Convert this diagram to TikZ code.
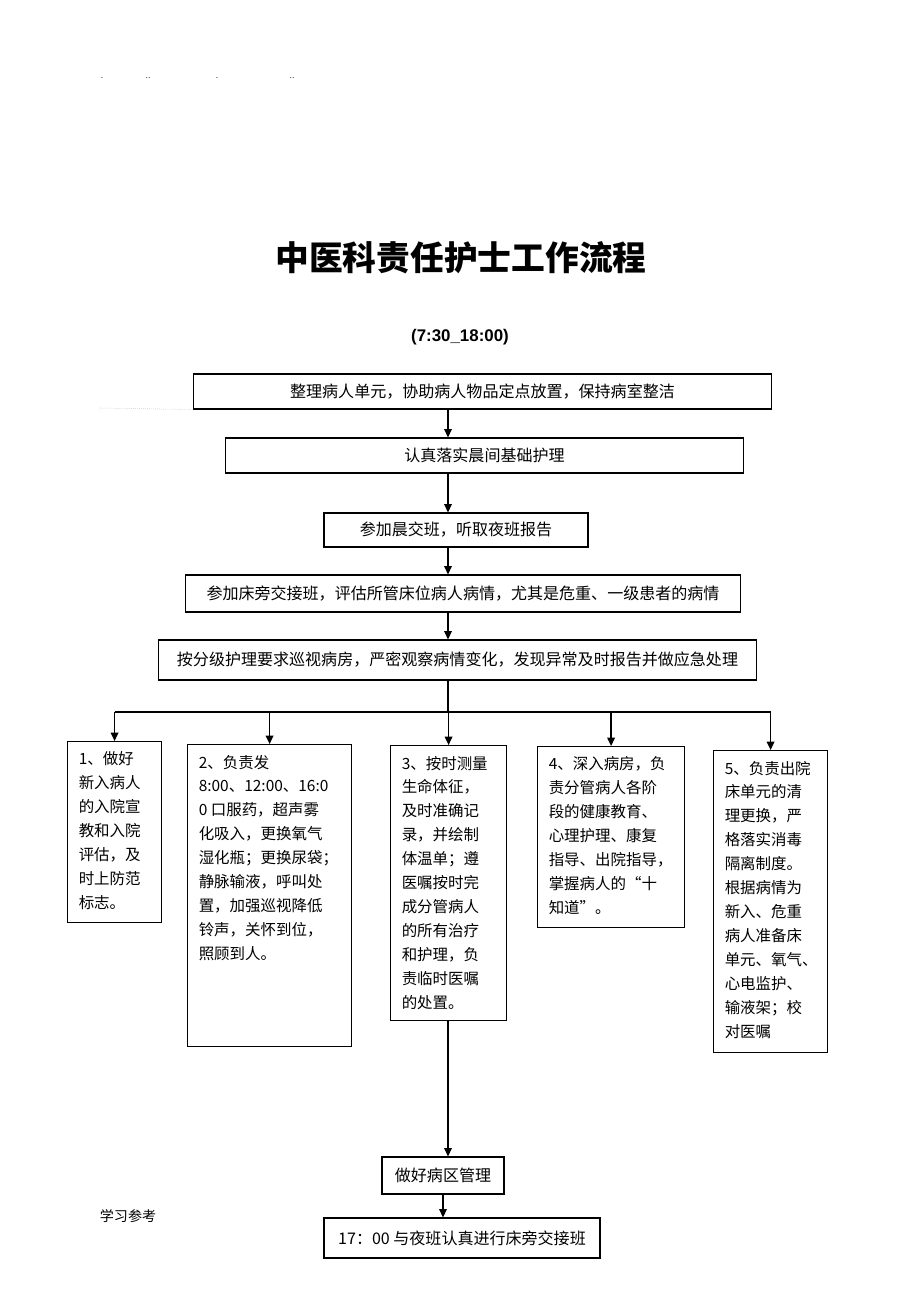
\documentclass[tikz,border=0pt]{standalone}
\usepackage{fontspec}
\setmainfont{Noto Sans CJK SC}
\newfontfamily\latinfont{Liberation Sans}
\usetikzlibrary{arrows.meta}
\usetikzlibrary{positioning}
\tikzset{
    stepbox/.style={
        draw,
        line width=0.8pt,
        inner sep=0pt,
        font=\fontsize{11.4}{17}\selectfont},
    subbox/.style={
        draw,
        line width=0.8pt,
        anchor=north west,
        inner xsep=0.28cm,
        inner ysep=0.26cm,
        font=\fontsize{11}{17}\selectfont},
    dotmark/.style={
        inner sep=0pt,
        font=\latinfont\fontsize{6}{7}\selectfont},
    link/.style={
        draw,
        line width=0.9pt,
        -{Triangle[length=6pt,width=5.5pt]}}}
\newcommand{\cell}[3]{\parbox[t][#2][t]{#1}{#3}}

\begin{document}
\begin{tikzpicture}[x=0.025cm,y=-0.025cm]
        \useasboundingbox (0,0) rectangle (920,1302);

        \node[dotmark] (d1) at (102,78) {.};
        \node[dotmark] (d2) at (148,78) {..};
        \node[dotmark] (d3) at (217,78) {.};
        \node[dotmark] (d4) at (292,78) {..};

        \node[font=\bfseries\fontsize{24}{28}\selectfont] (title) at (461,258) {中医科责任护士工作流程};
        \node[font=\latinfont\bfseries\fontsize{12}{14}\selectfont] (time) at (460,337) {(7:30\_18:00)};

        \node[stepbox,minimum width=14.425cm,minimum height=0.875cm] (b1) at (482.5,391.5) {整理病人单元，协助病人物品定点放置，保持病室整洁};
        \node[stepbox,minimum width=12.925cm,minimum height=0.875cm] (b2) at (484.5,455.5) {认真落实晨间基础护理};
        \node[stepbox,minimum width=6.6cm,minimum height=0.85cm] (b3) at (456,530) {参加晨交班，听取夜班报告};
        \node[stepbox,minimum width=13.85cm,minimum height=0.925cm] (b4) at (463,593.5) {参加床旁交接班，评估所管床位病人病情，尤其是危重、一级患者的病情};
        \node[stepbox,minimum width=14.925cm,minimum height=1.0cm] (b5) at (457.5,660) {按分级护理要求巡视病房，严密观察病情变化，发现异常及时报告并做应急处理};

        \node[subbox] (s1) at (67,741) {\cell{1.79cm}{4.0cm}{1、做好\\新入病人\\的入院宣\\教和入院\\评估，及\\时上防范\\标志。}};
        \node[subbox] (s2) at (187,744) {\cell{3.54cm}{7.03cm}{2、负责发\\8:00、12:00、16:0\\0 口服药，超声雾\\化吸入，更换氧气\\湿化瓶；更换尿袋；\\静脉输液，呼叫处\\置，加强巡视降低\\铃声，关怀到位，\\照顾到人。}};
        \node[subbox] (s3) at (390,745) {\cell{2.34cm}{6.355cm}{3、按时测量\\生命体征，\\及时准确记\\录，并绘制\\体温单；遵\\医嘱按时完\\成分管病人\\的所有治疗\\和护理，负\\责临时医嘱\\的处置。}};
        \node[subbox] (s4) at (537,746) {\cell{3.115cm}{4.005cm}{4、深入病房，负\\责分管病人各阶\\段的健康教育、\\心理护理、康复\\指导、出院指导，\\掌握病人的“十\\知道”。}};
        \node[subbox] (s5) at (713,750) {\cell{2.29cm}{7.03cm}{5、负责出院\\床单元的清\\理更换，严\\格落实消毒\\隔离制度。\\根据病情为\\新入、危重\\病人准备床\\单元、氧气、\\心电监护、\\输液架；校\\对医嘱}};

        \node[stepbox,minimum width=3.05cm,minimum height=0.925cm] (m1) at (443,1175.5) {做好病区管理};
        \node[stepbox,minimum width=6.9cm,minimum height=1.0cm] (m2) at (462,1238) {17：00 与夜班认真进行床旁交接班};

        \node[font=\fontsize{10}{12}\selectfont] (foot) at (128,1216) {学习参考};

        \coordinate (spine) at (448,0);
        \coordinate (bus) at (448,712);
        \coordinate (mark) at (100,408);

        \draw[gray!60,densely dotted,thin] (mark) -- (b1.south west);

        \draw[link] (b1.south -| spine) -- (b2.north -| spine);
        \draw[link] (b2.south -| spine) -- (b3.north -| spine);
        \draw[link] (b3.south -| spine) -- (b4.north -| spine);
        \draw[link] (b4.south -| spine) -- (b5.north -| spine);

        \draw[line width=0.9pt] (b5.south -| spine) -- (bus);
        \draw[line width=0.9pt] (s1.north |- bus) -- (s5.north |- bus);
        \foreach \n in {s1,s2,s3,s4,s5}
            \draw[link] (\n.north |- bus) -- (\n.north);

        \draw[link] (s3.south -| spine) -- (m1.north -| spine);
        \draw[link] (m1.south) -- (m1.south |- m2.north);
    \end{tikzpicture}
\end{document}
